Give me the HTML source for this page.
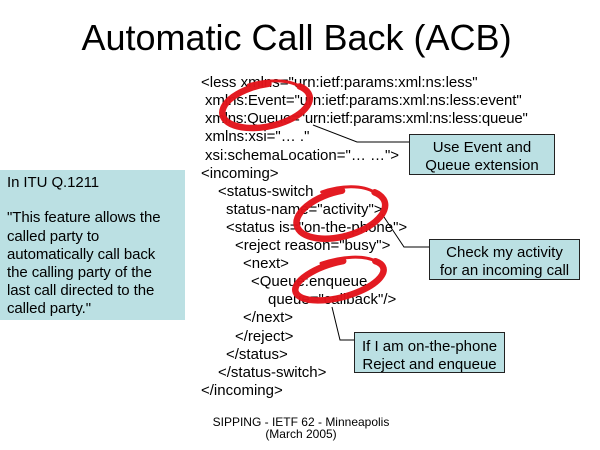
<!DOCTYPE html>
<html>
<head>
<meta charset="utf-8">
<style>
  html, body { margin:0; padding:0; }
  body { width:600px; height:450px; position:relative; background:#fff; overflow:hidden;
         font-family:"Liberation Sans", Arial, sans-serif; color:#000; }
  .t { position:absolute; white-space:pre; }
  .title { left:0; width:593px; top:19.5px; font-size:36px; line-height:36px; text-align:center; }
  .code { font-size:15px; line-height:18px; }
  .lbox { position:absolute; left:0; top:170px; width:185px; height:150px; background:#bbe0e3; }
  .lbox div { position:absolute; left:7px; font-size:15px; line-height:18px; white-space:pre; letter-spacing:-0.08px; }
  .cb { position:absolute; background:#bbe0e3; border:1px solid #222; box-sizing:border-box; }
  .cb div { position:absolute; left:0; width:100%; text-align:center; font-size:15px; line-height:18px; white-space:pre; }
  .foot { left:0; width:602px; text-align:center; font-size:12px; line-height:12px; top:415.8px; }
  svg { position:absolute; left:0; top:0; }
</style>
</head>
<body>
<div class="t title">Automatic Call Back (ACB)</div>

<div class="t code" style="left:201px;top:74.1px">&lt;less xmlns="urn:ietf:params:xml:ns:less"</div>
<div class="t code" style="left:205px;top:92.2px;letter-spacing:-0.08px">xmlns:Event="urn:ietf:params:xml:ns:less:event"</div>
<div class="t code" style="left:205px;top:110.3px;letter-spacing:-0.2px">xmlns:Queue="urn:ietf:params:xml:ns:less:queue"</div>
<div class="t code" style="left:205px;top:128.4px">xmlns:xsi="… ."</div>
<div class="t code" style="left:205px;top:146.5px">xsi:schemaLocation="… …"&gt;</div>
<div class="t code" style="left:201px;top:164.6px">&lt;incoming&gt;</div>
<div class="t code" style="left:218px;top:182.7px">&lt;status-switch</div>
<div class="t code" style="left:226px;top:200.8px">status-name="activity"&gt;</div>
<div class="t code" style="left:226px;top:218.9px">&lt;status is="on-the-phone"&gt;</div>
<div class="t code" style="left:235px;top:237.0px">&lt;reject reason="busy"&gt;</div>
<div class="t code" style="left:243px;top:255.1px">&lt;next&gt;</div>
<div class="t code" style="left:251px;top:273.2px">&lt;Queue:enqueue</div>
<div class="t code" style="left:268px;top:291.3px">queue="callback"/&gt;</div>
<div class="t code" style="left:243px;top:309.4px">&lt;/next&gt;</div>
<div class="t code" style="left:235px;top:327.5px">&lt;/reject&gt;</div>
<div class="t code" style="left:226px;top:345.6px">&lt;/status&gt;</div>
<div class="t code" style="left:218px;top:363.7px">&lt;/status-switch&gt;</div>
<div class="t code" style="left:201px;top:381.8px">&lt;/incoming&gt;</div>

<div class="lbox">
  <div style="top:3.5px">In ITU Q.1211</div>
  <div style="top:39.3px">"This feature allows the</div>
  <div style="top:57.5px">called party to</div>
  <div style="top:75.7px">automatically call back</div>
  <div style="top:93.9px">the calling party of the</div>
  <div style="top:112.1px">last call directed to the</div>
  <div style="top:130.3px">called party."</div>
</div>

<svg width="600" height="450" viewBox="0 0 600 450">
  <g fill="none" stroke="#000" stroke-width="1">
    <polyline points="313,125 357,142 410,142"/>
    <polyline points="382,214 404,247 430,247"/>
    <polyline points="332,307 340,340 355,340"/>
  </g>
  <g fill="none" stroke="#e3141b" stroke-linecap="round" opacity="0.97">
    <g transform="translate(265,106) rotate(-12)">
      <path d="M 8,-21 A 44.5 21 0 1 0 38,-12" stroke-width="6.5"/>
      <path d="M 38,-12 A 47 23 0 0 0 -12,-24" stroke-width="3"/>
    </g>
    <g transform="translate(340,214) rotate(-15)">
      <path d="M 8,-22 A 45.5 22.5 0 1 0 39,-12" stroke-width="6.5"/>
      <path d="M 39,-12 A 48 25 0 0 0 -12,-26" stroke-width="3"/>
    </g>
    <g transform="translate(340,280) rotate(-15)">
      <path d="M 8,-17.5 A 45.5 17.5 0 1 0 39,-9" stroke-width="6.5"/>
      <path d="M 39,-9 A 48 20 0 0 0 -14,-21" stroke-width="3"/>
    </g>
  </g>
</svg>

<div class="cb" style="left:409px;top:134px;width:146px;height:41px">
  <div style="top:4.1px">Use Event and</div>
  <div style="top:22.1px">Queue extension</div>
</div>
<div class="cb" style="left:429px;top:239px;width:151px;height:41px">
  <div style="top:3.8px">Check my activity</div>
  <div style="top:21.8px">for an incoming call</div>
</div>
<div class="cb" style="left:354px;top:332px;width:151px;height:41px">
  <div style="top:4.5px">If I am on-the-phone</div>
  <div style="top:22.5px">Reject and enqueue</div>
</div>

<div class="t foot">SIPPING - IETF 62 - Minneapolis<br>(March 2005)</div>
</body>
</html>
